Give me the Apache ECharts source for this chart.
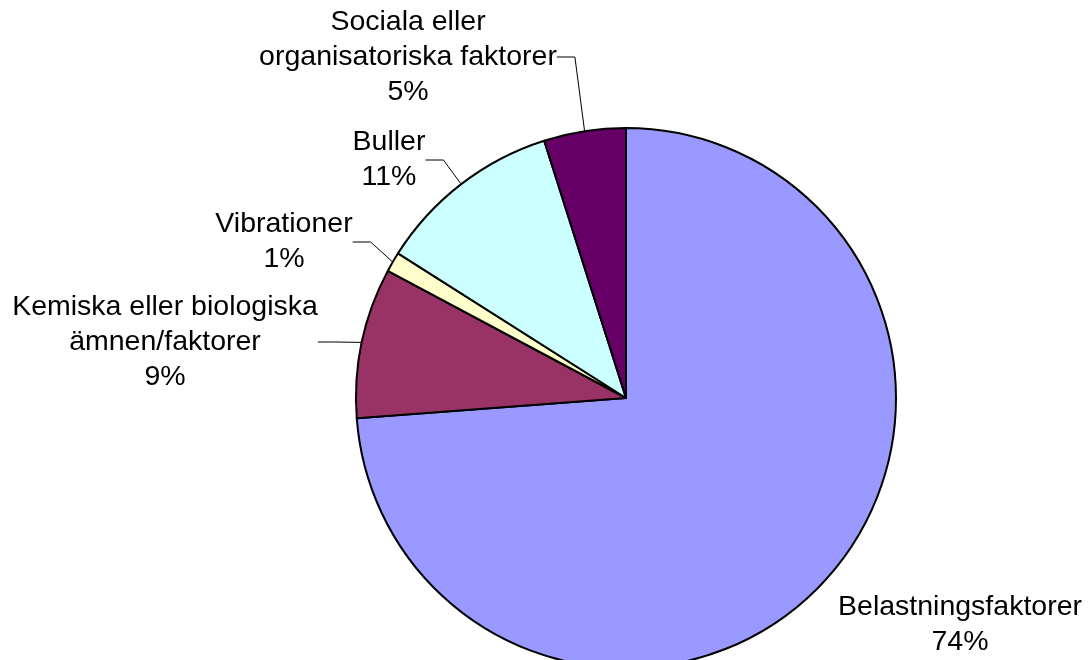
<!DOCTYPE html>
<html>
<head>
<meta charset="utf-8">
<script src="https://cdn.jsdelivr.net/npm/echarts@6/dist/echarts.min.js"></script>
<style>
  html, body { margin: 0; padding: 0; background: #fff; }
  #c1 { width: 1091px; height: 660px; }
</style>
</head>
<body>
<div id="c1"></div>
<script>
// slices, clockwise from 12 o'clock
var names = ['Belastningsfaktorer', 'Kemiska eller biologiska\nämnen/faktorer', 'Vibrationer', 'Buller', 'Sociala eller\norganisatoriska faktorer'];
var values = [73.8, 9.0, 1.2, 11.1, 4.9];
var colors = ['#9999FF', '#993366', '#FFFFCC', '#CCFFFF', '#660066'];
// where each label block sits (centre of text)
var labelPos = [[960, 625], [165, 342], [284, 242], [389, 160], [408, 57]];

var chartDom = document.getElementById('c1');
var myChart = echarts.init(chartDom);

var pieData = [];
for (var i = 0; i < names.length; i++) {
    pieData.push({
        name: names[i],
        value: values[i],
        itemStyle: { color: colors[i] },
        labelLine: { show: i !== 0 }
    });
}

var option = {
    animation: false,
    series: [
        {
            type: 'pie',
            center: [626, 398],
            radius: [0, 270],
            startAngle: 90,
            clockwise: true,
            avoidLabelOverlap: false,
            itemStyle: {
                borderColor: '#000',
                borderWidth: 2
            },
            label: {
                show: true,
                position: 'outside',
                color: '#000',
                fontFamily: 'Liberation Sans, Arial, sans-serif',
                fontSize: 28.5,
                lineHeight: 35,
                align: 'center',
                formatter: function (p) {
                    return p.name + '\n' + Math.round(p.percent) + '%';
                }
            },
            labelLine: {
                show: true,
                length: 10,
                length2: 18,
                lineStyle: { color: '#000', width: 1 }
            },
            labelLayout: function (params) {
                var p = labelPos[params.dataIndex];
                return { x: p[0], y: p[1], align: 'center', verticalAlign: 'middle' };
            },
            emphasis: { disabled: true },
            data: pieData
        }
    ]
};
myChart.setOption(option);
</script>
</body>
</html>
